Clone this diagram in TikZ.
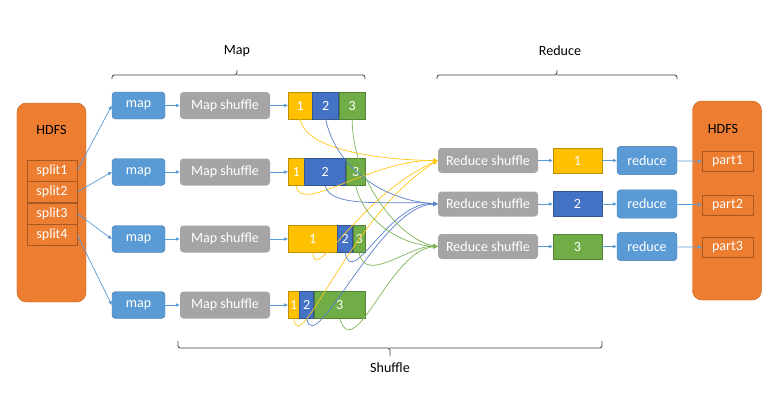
\documentclass[tikz,border=0pt]{standalone}
\usepackage{fontspec}
\setmainfont{Carlito}
\usetikzlibrary{arrows.meta, positioning}
\definecolor{hdfsorange}{RGB}{237,125,49}
\definecolor{mapblue}{RGB}{91,155,213}
\definecolor{shufgray}{RGB}{165,165,165}
\definecolor{partyellow}{RGB}{255,192,0}
\definecolor{partblue}{RGB}{68,114,196}
\definecolor{partgreen}{RGB}{112,173,71}

\begin{document}
\begin{tikzpicture}[x=0.03cm, y=-0.03cm,
  every node/.style={font=\fontsize{12}{14}\selectfont},
  store/.style={draw=hdfsorange!85!black, fill=hdfsorange, rounded corners=8pt, minimum width=2.07cm, minimum height=5.97cm},
  chunk/.style={draw=hdfsorange!70!black, fill=hdfsorange, text=white, minimum width=1.5cm, minimum height=0.63cm, inner sep=1pt},
  task/.style={draw=mapblue!80!black, fill=mapblue, text=white, rounded corners=3pt, minimum width=1.59cm, minimum height=0.81cm},
  shuf/.style={fill=shufgray, text=white, rounded corners=3pt, minimum width=2.7cm, minimum height=0.81cm},
  seg/.style={draw=#1!75!black, fill=#1, text=white, minimum height=0.81cm, inner sep=1pt},
  conn/.style={-{Triangle[length=1.2mm, width=1mm]}, mapblue, line width=0.6pt},
  flow/.style={-{Triangle[length=1.4mm, width=1.2mm]}, line width=0.6pt, #1!90!white},
  brace/.style={draw=black!75, line width=0.7pt, rounded corners=2pt}
]
\useasboundingbox (0,0) rectangle (768,414);

% HDFS input
\node[store] (hdfsin) at (51.5,202.5) {};
\node (hdfsinlbl) at (51.5,130) {HDFS};
\node[chunk] (split1) at (52,170.5) {split1};
\node[chunk, below=0pt of split1] (split2) {split2};
\node[chunk, below=0pt of split2] (split3) {split3};
\node[chunk, below=0pt of split3] (split4) {split4};

% Map side
\foreach \i/\y in {1/105.5, 2/172, 3/239, 4/305} {
  \node[task] (map\i) at (138.5,\y) {map};
  \node[shuf] (ms\i) at (225,\y) {Map shuffle};
  \draw[conn] (split\i.east) -- (map\i.west);
  \draw[conn] (map\i) -- (ms\i);
}

% Partitions
\node[seg=partyellow, minimum width=0.72cm, anchor=west] (p11) at (288,105.5) {1};
\node[seg=partblue, minimum width=0.78cm, right=0pt of p11] (p12) {2};
\node[seg=partgreen, minimum width=0.78cm, right=0pt of p12] (p13) {3};
\node[seg=partyellow, minimum width=0.48cm, anchor=west] (p21) at (288,172) {1};
\node[seg=partblue, minimum width=1.23cm, right=0pt of p21] (p22) {2};
\node[seg=partgreen, minimum width=0.57cm, right=0pt of p22] (p23) {3};
\node[seg=partyellow, minimum width=1.47cm, anchor=west] (p31) at (288,239) {1};
\node[seg=partblue, minimum width=0.45cm, right=0pt of p31] (p32) {2};
\node[seg=partgreen, minimum width=0.36cm, right=0pt of p32] (p33) {3};
\node[seg=partyellow, minimum width=0.33cm, anchor=west] (p41) at (288,305) {1};
\node[seg=partblue, minimum width=0.42cm, right=0pt of p41] (p42) {2};
\node[seg=partgreen, minimum width=1.53cm, right=0pt of p42] (p43) {3};
\foreach \i in {1,...,4}
  \draw[conn] (ms\i) -- (p\i1);

% Reduce side
\node[store] (hdfsout) at (727,200.5) {};
\node (hdfsoutlbl) at (723,129) {HDFS};
\foreach \j/\y/\c in {1/160.5/partyellow, 2/204/partblue, 3/246.5/partgreen} {
  \node[shuf, minimum width=3cm, minimum height=0.75cm] (rs\j) at (488,\y) {Reduce shuffle};
  \node[seg=\c, minimum width=1.47cm, minimum height=0.75cm] (out\j) at (577.5,\y) {\j};
  \node[task, minimum width=1.8cm, minimum height=0.85cm] (red\j) at (647,\y) {reduce};
  \node[chunk, minimum width=1.53cm, minimum height=0.6cm] (part\j) at (727.5,\y+1) {part\j};
  \draw[conn] (rs\j) -- (out\j);
  \draw[conn] (out\j) -- (red\j);
  \draw[conn] (red\j) -- (part\j);
}

% Shuffle flows
\draw[flow=partyellow] (p11.south) .. controls (305,150) and (380,160) .. (rs1.west);
\draw[flow=partyellow] (p21.south) .. controls (300,215) and (370,160) .. (rs1.west);
\draw[flow=partyellow] (p31.south) .. controls (315,285) and (360,195) .. (rs1.west);
\draw[flow=partyellow] (p41.south) .. controls (300,360) and (350,215) .. (rs1.west);
\draw[flow=partblue] (p12.south) .. controls (335,165) and (380,200) .. (rs2.west);
\draw[flow=partblue] (p22.south) .. controls (330,210) and (400,200) .. (rs2.west);
\draw[flow=partblue] (p32.south) .. controls (352,290) and (390,200) .. (rs2.west);
\draw[flow=partblue] (p42.south) .. controls (315,360) and (380,205) .. (rs2.west);
\draw[flow=partgreen] (p13.south) .. controls (352,180) and (400,240) .. (rs3.west);
\draw[flow=partgreen] (p23.south) .. controls (365,225) and (405,245) .. (rs3.west);
\draw[flow=partgreen] (p33.south) .. controls (365,285) and (410,245) .. (rs3.west);
\draw[flow=partgreen] (p43.south) .. controls (355,365) and (390,250) .. (rs3.west);

% Braces
\draw[brace] (112,79) |- (237,75) -- (237,70);
\draw[brace] (237,75) -| (365,79);
\node (maplbl) at (237,51) {Map};
\draw[brace] (437,79) |- (557,75) -- (557,70);
\draw[brace] (557,75) -| (677,79);
\node (reducelbl) at (560,51) {Reduce};
\draw[brace] (178,341) |- (390,348) -- (390,356);
\draw[brace] (390,348) -| (602,341);
\node (shufflelbl) at (390,368) {Shuffle};
\end{tikzpicture}
\end{document}
